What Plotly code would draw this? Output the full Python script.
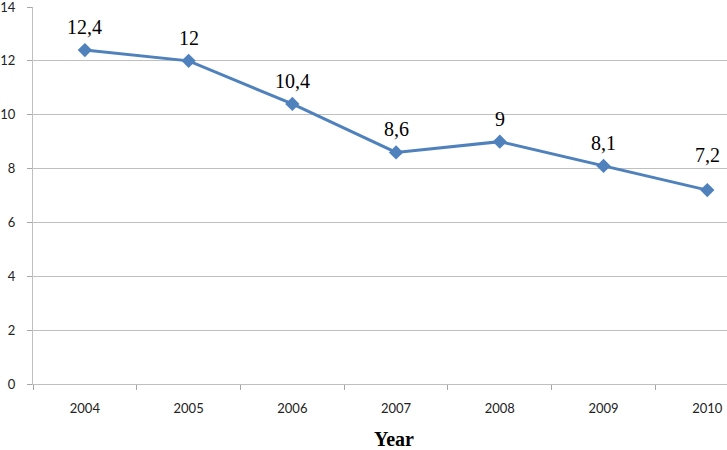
import plotly.graph_objects as go

years = ["2004", "2005", "2006", "2007", "2008", "2009", "2010"]
values = [12.4, 12, 10.4, 8.6, 9, 8.1, 7.2]
labels = ["12,4", "12", "10,4", "8,6", "9", "8,1", "7,2"]
y_ticks = [0, 2, 4, 6, 8, 10, 12, 14]

fig = go.Figure()
fig.add_trace(go.Scatter(
    x=years, y=values, mode="lines+markers",
    line=dict(color="#4F81BD", width=3),
    marker=dict(symbol="diamond", size=11, color="#4F81BD"),
    cliponaxis=False,
))

for i, (v, lab) in enumerate(zip(values, labels)):
    shift = 35 if i == len(values) - 1 else 23
    fig.add_annotation(
        x=i, y=v, text=lab, showarrow=False, yshift=shift,
        font=dict(family="Liberation Serif", size=20, color="#000000"),
    )

fig.add_annotation(
    xref="paper", yref="paper", x=0.52, y=0, yshift=-55, yanchor="middle",
    text="<b>Year</b>", showarrow=False,
    font=dict(family="Liberation Serif", size=20, color="#000000"),
)

fig.update_layout(
    width=727, height=450,
    margin=dict(l=33, r=0, t=7, b=66, autoexpand=False),
    paper_bgcolor="white", plot_bgcolor="white",
    showlegend=False,
    xaxis=dict(
        type="category", range=[-0.5, 6.19], automargin=False,
        tickson="boundaries", ticks="outside", ticklen=5, tickcolor="#A6A6A6",
        showgrid=False, showline=True, linecolor="#BFBFBF", linewidth=1,
        tickfont=dict(family="Lato", size=13, color="#222222"),
        ticklabeloverflow="allow", ticklabelstandoff=12,
    ),
    yaxis=dict(
        range=[0, 14], tickvals=y_ticks, ticks="outside", ticklen=5, tickcolor="#A6A6A6",
        automargin=False, ticklabeloverflow="allow", ticklabelstandoff=9,
        showgrid=True, gridcolor="#BFBFBF", gridwidth=1,
        showline=True, linecolor="#BFBFBF", linewidth=1,
        zeroline=False,
        tickfont=dict(family="Lato", size=13, color="#222222"),
    ),
)

fig.write_html(
    "out.html",
    config={"displayModeBar": False},
    post_script="document.body.style.margin='0';document.body.style.overflow='hidden';",
)
